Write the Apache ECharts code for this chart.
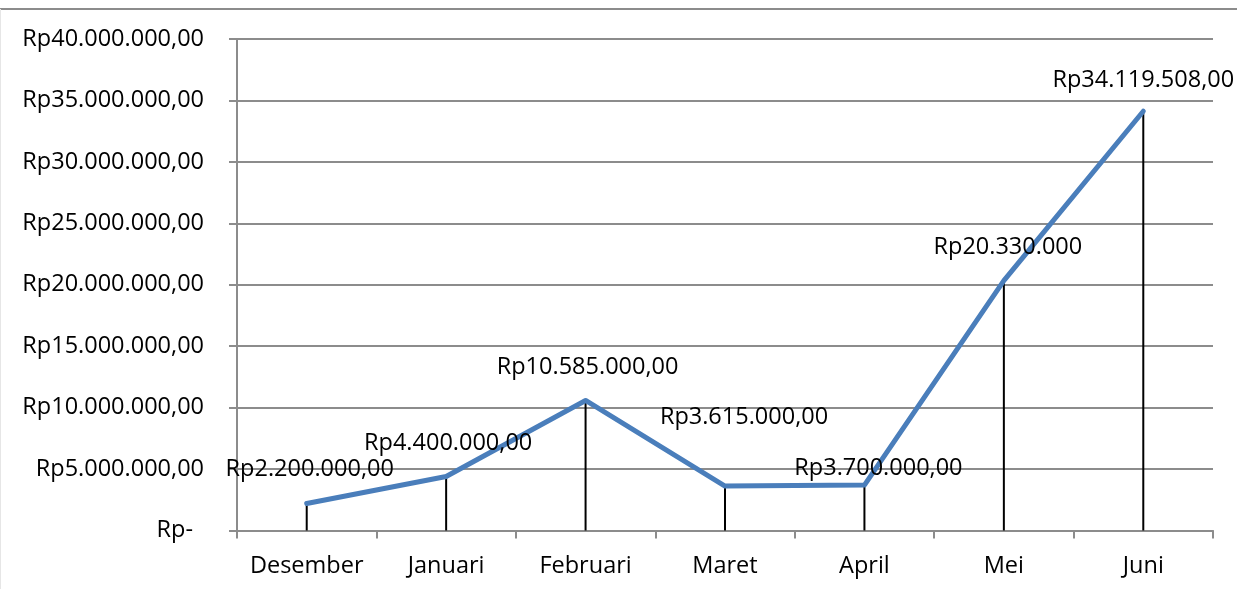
<!DOCTYPE html>
<html>
<head>
<meta charset="utf-8">
<script src="https://cdn.jsdelivr.net/npm/echarts@6/dist/echarts.min.js"></script>
<style>
html,body{margin:0;padding:0;background:#fff;}
#chart{width:1237px;height:589px;}
</style>
</head>
<body>
<div id="chart"></div>
<script>
var categories = ['Desember','Januari','Februari','Maret','April','Mei','Juni'];
var values = [2200000, 4400000, 10585000, 3615000, 3700000, 20330000, 34119508];
var labelTexts = ['Rp2.200.000,00','Rp4.400.000,00','Rp10.585.000,00','Rp3.615.000,00','Rp3.700.000,00','Rp20.330.000','Rp34.119.508,00'];
var labelOffsets = [[3,-34],[2,-33],[2,-33],[19,-69],[14,-17],[4,-33],[0,-31]];
var yTicks = {min:0, max:40000000, interval:5000000};

function fmtRp(v){
  if (v === 0) return '{z|Rp-}';
  var s = String(Math.round(v)).replace(/\B(?=(\d{3})+(?!\d))/g, '.');
  return 'Rp' + s + ',00';
}

var FONT = 'Open Sans';
var FS = 23.5;
var GRID_COLOR = '#8c8c8c';

var chart = echarts.init(document.getElementById('chart'), null, {renderer:'canvas'});
var lineData = values.map(function(v,i){
  return {value:v, label:{offset:labelOffsets[i]}};
});
chart.setOption({
  animation:false,
  backgroundColor:'#fff',
  grid:{left:237, right:24, top:39, bottom:58.5, containLabel:false},
  graphic:[
    {type:'line', shape:{x1:0, y1:9, x2:1237, y2:9}, style:{stroke:'#8c8c8c', lineWidth:2}, silent:true},
    {type:'line', shape:{x1:0.5, y1:9, x2:0.5, y2:589}, style:{stroke:'#e6e6e6', lineWidth:1}, silent:true}
  ],
  xAxis:{
    type:'category', data:categories, boundaryGap:true,
    axisLine:{lineStyle:{color:GRID_COLOR, width:2}},
    axisTick:{show:true, length:8, lineStyle:{color:GRID_COLOR, width:2}},
    axisLabel:{color:'#000', fontFamily:FONT, fontSize:FS, margin:24, interval:0}
  },
  yAxis:{
    type:'value', min:yTicks.min, max:yTicks.max, interval:yTicks.interval,
    axisLine:{show:true, lineStyle:{color:GRID_COLOR, width:2}},
    axisTick:{show:true, length:8, lineStyle:{color:GRID_COLOR, width:2}},
    splitLine:{show:true, lineStyle:{color:GRID_COLOR, width:2}},
    axisLabel:{color:'#000', fontFamily:FONT, fontSize:FS, margin:33, formatter:fmtRp,
      rich:{z:{color:'#000', fontFamily:FONT, fontSize:FS, padding:[0,11,0,0]}}}
  },
  series:[
    {
      type:'bar', data:values, barWidth:2, silent:true,
      itemStyle:{color:'#000'}, z:2
    },
    {
      type:'line', data:lineData, symbol:'circle', symbolSize:1, showSymbol:true,
      lineStyle:{color:'#4a7ebb', width:5, cap:'round', join:'round'},
      itemStyle:{color:'#4a7ebb'}, z:3,
      label:{show:true, position:'inside', color:'#000', fontFamily:FONT, fontSize:FS,
        formatter:function(p){return labelTexts[p.dataIndex];}}
    }
  ]
});
</script>
</body>
</html>
